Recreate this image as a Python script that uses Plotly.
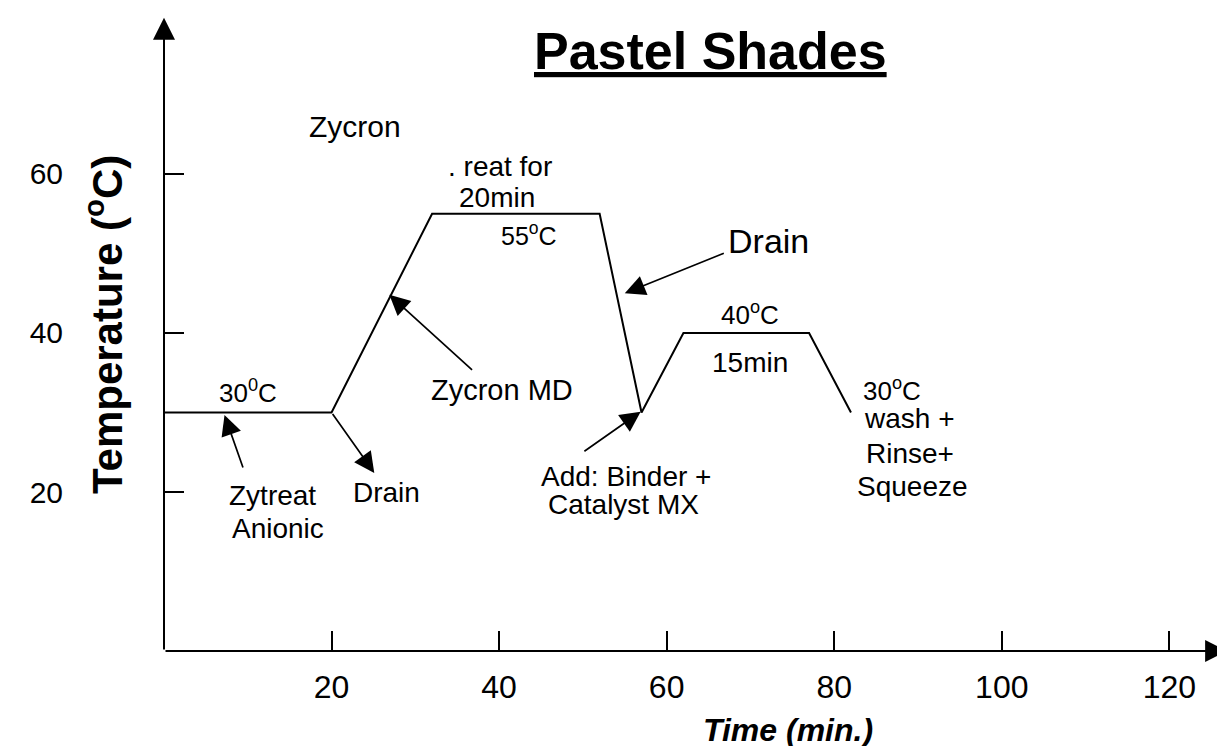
import plotly.graph_objects as go

# ---- data ----
time_min = [0, 20, 32, 52, 57, 62, 77, 82]
temp_c = [30, 30, 55, 55, 30, 40, 40, 30]

x_ticks = [20, 40, 60, 80, 100, 120]
y_ticks = [20, 40, 60]

# text labels: (text, x, y, size)
labels = [
    ("Zycron", 22.75, 66.0, 30),
    (". reat for", 40.1, 60.9, 28),
    ("20min", 39.8, 57.0, 28),
    ("55<sup>o</sup>C", 43.6, 52.4, 25),
    ("Zycron MD", 40.4, 32.8, 29),
    ("Drain", 72.1, 51.6, 34),
    ("Drain", 26.6, 20.0, 28),
    ("Zytreat", 12.95, 19.6, 28),
    ("Anionic", 13.55, 15.35, 28),
    ("30<sup>0</sup>C", 9.97, 32.7, 26),
    ("40<sup>o</sup>C", 69.9, 42.5, 26),
    ("15min", 69.9, 36.35, 28),
    ("Add: Binder +", 55.1, 22.0, 28),
    ("Catalyst MX", 54.9, 18.4, 28),
    ("30<sup>o</sup>C", 86.9, 32.95, 26),
    ("wash +", 89.0, 29.3, 28),
    ("Rinse+", 89.0, 24.9, 28),
    ("Squeeze", 89.4, 20.75, 28),
]

# pointer arrows: (tail_x, tail_y, tip_x, tip_y)
pointers = [
    (9.49, 22.9, 7.22, 29.7),
    (20.0, 30.0, 25.1, 22.4),
    (36.95, 35.2, 26.9, 44.8),
    (67.0, 50.1, 55.0, 45.0),
    (50.0, 25.0, 56.9, 30.1),
]

X_MAX = 127.6
Y_MAX = 80.25

FONT = "Arial, Liberation Sans, sans-serif"

fig = go.Figure()
fig.add_trace(go.Scatter(
    x=time_min, y=temp_c, mode="lines",
    line=dict(color="black", width=2), hoverinfo="skip", showlegend=False,
))

anns = []
for txt, x, y, s in labels:
    anns.append(dict(text=txt, x=x, y=y, xref="x", yref="y", showarrow=False,
                     xanchor="center", yanchor="middle",
                     font=dict(family=FONT, size=s, color="black")))

for tx, ty, hx, hy in pointers:
    anns.append(dict(text="", x=hx, y=hy, ax=tx, ay=ty, xref="x", yref="y",
                     axref="x", ayref="y", showarrow=True, arrowhead=2,
                     arrowsize=2.4, arrowwidth=1.7, arrowcolor="black"))

# axes drawn as arrows from the origin
anns.append(dict(text="", x=X_MAX - 0.7, y=0, ax=0, ay=0, xref="x", yref="y",
                 axref="x", ayref="y", showarrow=True, arrowhead=2,
                 arrowsize=2.2, arrowwidth=2, arrowcolor="black"))
anns.append(dict(text="", x=0, y=Y_MAX - 0.6, ax=0, ay=0, xref="x", yref="y",
                 axref="x", ayref="y", showarrow=True, arrowhead=2,
                 arrowsize=2.2, arrowwidth=2, arrowcolor="black"))

# title
anns.append(dict(text="<b><u>Pastel Shades</u></b>", x=0.5108, y=0.940,
                 xref="paper", yref="paper", showarrow=False,
                 xanchor="center", yanchor="middle",
                 font=dict(family=FONT, size=52, color="black")))
# axis titles
anns.append(dict(text="<b>Temperature (<sup>o</sup>C)</b>", x=-0.0561, y=0.511,
                 xref="paper", yref="paper", showarrow=False, textangle=-90,
                 xanchor="center", yanchor="middle",
                 font=dict(family=FONT, size=42, color="black")))
anns.append(dict(text="<b><i>Time (min.)</i></b>", x=0.5837, y=-0.124,
                 xref="paper", yref="paper", showarrow=False,
                 xanchor="center", yanchor="middle",
                 font=dict(family=FONT, size=32, color="black")))

fig.update_layout(
    width=1225, height=746,
    margin=dict(l=156, r=0, t=5, b=103),
    paper_bgcolor="white", plot_bgcolor="white",
    annotations=anns,
    xaxis=dict(range=[0, X_MAX], tickvals=x_ticks, ticktext=[str(v) for v in x_ticks],
               showgrid=False, zeroline=False, showline=False,
               ticks="inside", ticklen=20, tickwidth=2, tickcolor="black",
               ticklabelstandoff=14,
               tickfont=dict(family=FONT, size=32, color="black")),
    yaxis=dict(range=[0, Y_MAX], tickvals=y_ticks, ticktext=[str(v) for v in y_ticks],
               showgrid=False, zeroline=False, showline=False,
               ticks="inside", ticklen=20, tickwidth=2, tickcolor="black",
               ticklabelstandoff=100,
               tickfont=dict(family=FONT, size=30, color="black")),
)

fig.write_html("out.html")
